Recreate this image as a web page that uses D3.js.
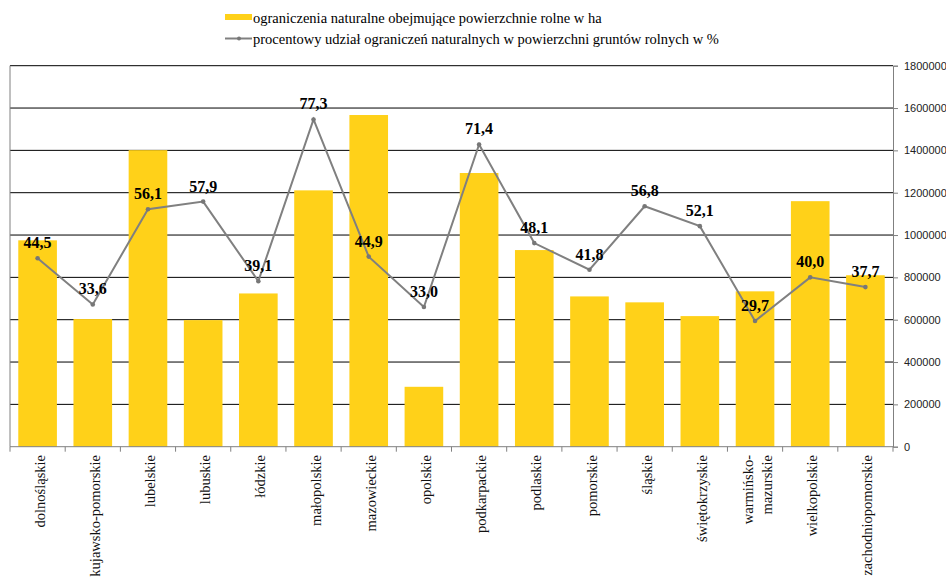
<!DOCTYPE html>
<html>
<head>
<meta charset="utf-8">
<script src="https://cdn.jsdelivr.net/npm/d3@7"></script>
<style>
  body { margin: 0; background: #fff; }
  svg { display: block; }
</style>
</head>
<body>
<div class="displayArea"></div>
<script>
// dane
const regions = ["dolnośląskie", "kujawsko-pomorskie", "lubelskie", "lubuskie", "łódzkie",
    "małopolskie", "mazowieckie", "opolskie", "podkarpackie", "podlaskie", "pomorskie",
    "śląskie", "świętokrzyskie", "warmińsko-\nmazurskie", "wielkopolskie", "zachodniopomorskie"];
const areaHa = [975000, 603000, 1401000, 598000, 724000, 1211000, 1567000, 283000,
    1293000, 929000, 710000, 682000, 617000, 734000, 1160000, 810000];
const sharePct = [44.5, 33.6, 56.1, 57.9, 39.1, 77.3, 44.9, 33.0,
    71.4, 48.1, 41.8, 56.8, 52.1, 29.7, 40.0, 37.7];
const areaTicks = [0, 200000, 400000, 600000, 800000, 1000000, 1200000, 1400000, 1600000, 1800000];
const legendLabels = ["ograniczenia naturalne obejmujące powierzchnie rolne w ha",
    "procentowy udział ograniczeń naturalnych w powierzchni gruntów rolnych w %"];

const W = 946, H = 577;
const plotLeft = 10, plotRight = 893, plotTop = 65.7, plotBottom = 446.7;
const serif = "'Liberation Serif', 'Times New Roman', serif";
const sans = "'Liberation Sans', Arial, sans-serif";
const barColor = "#FFD119";

const svg = d3.select(".displayArea").append("svg")
    .attr("width", W)
    .attr("height", H);

// skale
const x = d3.scaleBand()
    .domain(regions)
    .range([plotLeft, plotRight])
    .paddingInner(0.3)
    .paddingOuter(0.15);

const yArea = d3.scaleLinear().domain([0, 1800000]).range([plotBottom, plotTop]);
const yPct = d3.scaleLinear().domain([0, 90]).range([plotBottom, plotTop]);

// linie siatki
svg.append("g").selectAll("line")
    .data(areaTicks.slice(1))
    .enter().append("line")
    .attr("x1", plotLeft).attr("x2", plotRight)
    .attr("y1", d => yArea(d)).attr("y2", d => yArea(d))
    .style("stroke", "#000")
    .style("stroke-width", 1);

// słupki
svg.append("g").selectAll("rect")
    .data(areaHa)
    .enter().append("rect")
    .attr("x", (d, i) => x(regions[i]))
    .attr("y", d => yArea(d))
    .attr("width", x.bandwidth())
    .attr("height", d => plotBottom - yArea(d))
    .style("fill", barColor);

// oś lewa (bez opisów)
svg.append("line")
    .attr("x1", plotLeft).attr("x2", plotLeft)
    .attr("y1", plotTop).attr("y2", plotBottom)
    .style("stroke", "#808080");

// oś prawa
const rightAxis = svg.append("g")
    .attr("transform", `translate(${plotRight},0)`)
    .call(d3.axisRight(yArea).tickValues(areaTicks).tickSize(5).tickPadding(6).tickFormat(d3.format("d")));
rightAxis.select(".domain").style("stroke", "#808080");
rightAxis.selectAll(".tick line").style("stroke", "#808080");
rightAxis.selectAll("text")
    .style("font-family", sans)
    .style("font-size", "11px")
    .style("fill", "#222");

// oś dolna
const step = x.step();
const boundaries = d3.range(regions.length + 1).map(i => plotLeft + i * step);
svg.append("line")
    .attr("x1", plotLeft).attr("x2", plotRight)
    .attr("y1", plotBottom).attr("y2", plotBottom)
    .style("stroke", "#808080");
svg.append("g").selectAll("line")
    .data(boundaries)
    .enter().append("line")
    .attr("x1", d => d).attr("x2", d => d)
    .attr("y1", plotBottom).attr("y2", plotBottom + 5)
    .style("stroke", "#808080");

const xLabels = svg.append("g").selectAll("text")
    .data(regions)
    .enter().append("text")
    .attr("transform", d => `translate(${x(d) + x.bandwidth() / 2 + 2},455) rotate(-90)`)
    .attr("text-anchor", "end")
    .style("font-family", serif)
    .style("font-size", "14.5px")
    .style("fill", "#111");

xLabels.each(function (d) {
    const parts = d.split("\n");
    const t = d3.select(this);
    parts.forEach((p, j) => {
        t.append("tspan")
            .attr("x", 0)
            .attr("dy", parts.length === 1 ? "0.35em" : (j === 0 ? "-0.3em" : "1.3em"))
            .text(p);
    });
});

// linia procentowa
const cx = i => x(regions[i]) + x.bandwidth() / 2;
const line = d3.line()
    .x((d, i) => cx(i))
    .y(d => yPct(d));

svg.append("path")
    .datum(sharePct)
    .attr("d", line)
    .style("fill", "none")
    .style("stroke", "#808080")
    .style("stroke-width", 2);

svg.append("g").selectAll("circle")
    .data(sharePct)
    .enter().append("circle")
    .attr("cx", (d, i) => cx(i))
    .attr("cy", d => yPct(d))
    .attr("r", 2.3)
    .style("fill", "#777");

svg.append("g").selectAll("text")
    .data(sharePct)
    .enter().append("text")
    .attr("x", (d, i) => cx(i))
    .attr("y", d => yPct(d) - 10)
    .attr("text-anchor", "middle")
    .style("font-family", serif)
    .style("font-size", "16px")
    .style("font-weight", "bold")
    .style("fill", "#000")
    .text(d => d3.format(".1f")(d).replace(".", ","));

// legenda
const legend = svg.append("g");
legend.append("rect")
    .attr("x", 225).attr("y", 14)
    .attr("width", 27).attr("height", 6)
    .style("fill", barColor);
legend.append("line")
    .attr("x1", 225).attr("x2", 252)
    .attr("y1", 38.5).attr("y2", 38.5)
    .style("stroke", "#808080")
    .style("stroke-width", 2);
legend.append("circle")
    .attr("cx", 239).attr("cy", 38.5).attr("r", 2)
    .style("fill", "#777");
legend.selectAll("text")
    .data(legendLabels)
    .enter().append("text")
    .attr("x", 253)
    .attr("y", (d, i) => 17.5 + i * 21)
    .attr("dy", "0.35em")
    .style("font-family", serif)
    .style("font-size", "14.5px")
    .style("fill", "#000")
    .text(d => d);
</script>
</body>
</html>
